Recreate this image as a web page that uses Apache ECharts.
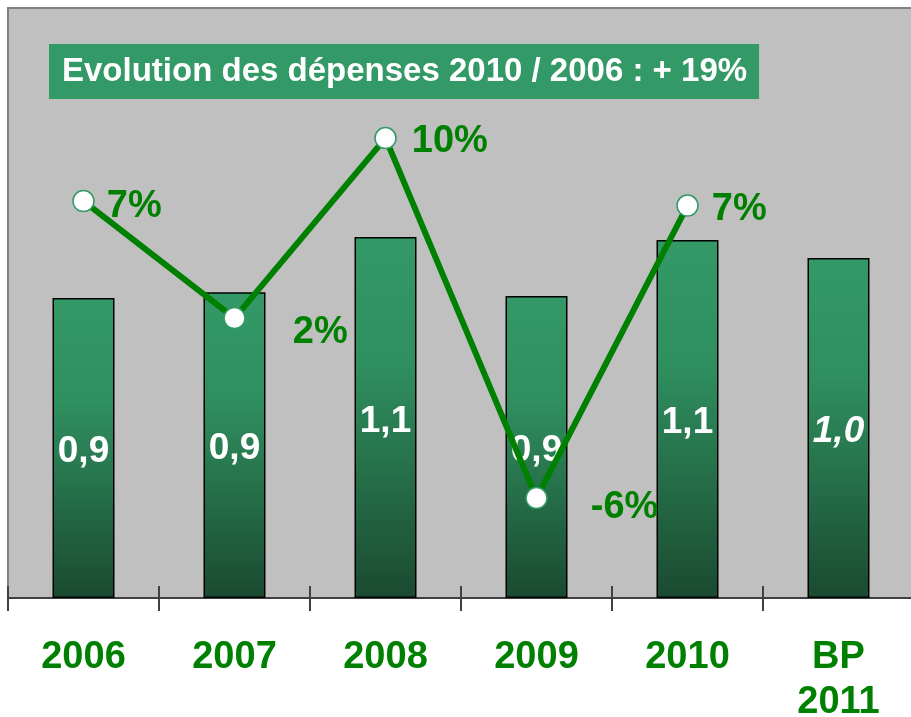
<!DOCTYPE html>
<html>
<head>
<meta charset="utf-8">
<script src="https://cdn.jsdelivr.net/npm/echarts@6/dist/echarts.min.js"></script>
<style>
html,body{margin:0;padding:0;background:#fff;}
#c{width:911px;height:717px;}
</style>
</head>
<body>
<div id="c"></div>
<script>
const categories = ['2006', '2007', '2008', '2009', '2010', 'BP\n2011'];
const spending = [0.915, 0.933, 1.101, 0.921, 1.092, 1.037];
const growth = [7.2, 2.0, 10.0, -6.0, 7.0, null];
const titleText = 'Evolution des dépenses 2010 / 2006 : + 19%';

const FONT = 'Liberation Sans, Arial, sans-serif';
const chart = echarts.init(document.getElementById('c'));

const barData = spending.map((v, i) => {
  const d = { value: v };
  if (i === spending.length - 1) d.label = { fontStyle: 'italic' };
  return d;
});
const labelOffsets = [[-1, 5], [34, 14], [2, 3], [30, 9], [0, 4], [0, 0]];
const lineData = growth.map((v, i) => v === null ? '-' : {
  value: v,
  label: { offset: labelOffsets[i] }
});

chart.setOption({
  animation: false,
  backgroundColor: '#ffffff',
  title: {
    text: titleText,
    left: 49,
    top: 44,
    backgroundColor: '#339966',
    padding: [11, 12, 11, 13],
    textStyle: { color: '#ffffff', fontFamily: FONT, fontWeight: 'bold', fontSize: 33, lineHeight: 33 }
  },
  grid: {
    left: 8, top: 8, width: 906, height: 590,
    outerBoundsMode: 'none',
    containLabel: false,
    show: true, backgroundColor: '#c0c0c0', borderColor: '#808080', borderWidth: 2
  },
  xAxis: [{
    type: 'category',
    data: categories,
    position: 'bottom',
    axisLine: { onZero: false, lineStyle: { color: '#404040', width: 2 } },
    axisTick: { show: true, length: 13, lineStyle: { color: '#404040', width: 2 } },
    axisLabel: { color: '#008000', fontFamily: FONT, fontWeight: 'bold', fontSize: 38, lineHeight: 45, margin: 37 }
  }, {
    type: 'category',
    data: categories,
    position: 'bottom',
    gridIndex: 0,
    axisLine: { show: false, onZero: false },
    axisTick: { show: true, inside: true, length: 12, lineStyle: { color: '#404040', width: 2 } },
    axisLabel: { show: false }
  }],
  yAxis: [{
    type: 'value', min: 0, max: 1.8, show: false, splitLine: { show: false }
  }, {
    type: 'value', min: -10.44, max: 15.78, show: false, splitLine: { show: false }
  }],
  series: [{
    type: 'bar',
    data: barData,
    barWidth: 62,
    itemStyle: {
      borderColor: '#000000', borderWidth: 1.5,
      color: new echarts.graphic.LinearGradient(0, 0, 0, 1, [
        { offset: 0, color: '#339966' },
        { offset: 0.35, color: '#2f8f5f' },
        { offset: 1, color: '#1a4a30' }
      ])
    },
    label: {
      show: true, position: 'inside', offset: [0, 4], color: '#ffffff',
      fontFamily: FONT, fontWeight: 'bold', fontSize: 37,
      formatter: p => p.value.toFixed(1).replace('.', ',')
    },
    z: 2
  }, {
    type: 'line',
    yAxisIndex: 1,
    data: lineData,
    symbol: 'circle',
    symbolSize: 21,
    lineStyle: { color: '#008000', width: 6 },
    itemStyle: { color: '#ffffff', borderColor: '#339966', borderWidth: 1.5 },
    label: {
      show: true, position: 'right', distance: 13, color: '#008000',
      fontFamily: FONT, fontWeight: 'bold', fontSize: 38,
      formatter: p => Math.round(p.value) + '%'
    },
    z: 3
  }]
});
</script>
</body>
</html>
